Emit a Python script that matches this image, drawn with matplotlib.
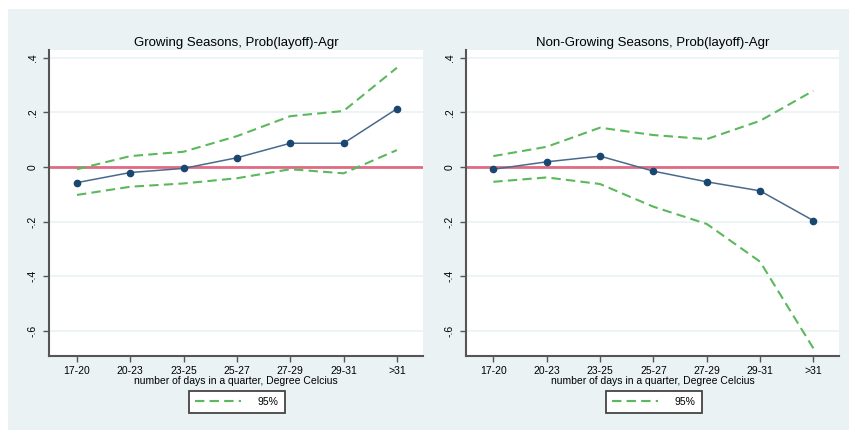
import matplotlib.pyplot as plt
from matplotlib.patches import Rectangle

# temperature bins on the x axis
bins = ['17-20', '20-23', '23-25', '25-27', '27-29', '29-31', '>31']
xpos = [1, 2, 3, 4, 5, 6, 7]

# growing seasons: estimate and 95% band
grow_est = [-0.057, -0.020, -0.005, 0.034, 0.087, 0.087, 0.213]
grow_hi = [-0.008, 0.040, 0.056, 0.113, 0.186, 0.205, 0.363]
grow_lo = [-0.102, -0.072, -0.060, -0.041, -0.008, -0.023, 0.062]

# non-growing seasons: estimate and 95% band
non_est = [-0.008, 0.019, 0.040, -0.015, -0.054, -0.087, -0.196]
non_hi = [0.040, 0.074, 0.144, 0.117, 0.102, 0.169, 0.279]
non_lo = [-0.054, -0.038, -0.062, -0.145, -0.208, -0.346, -0.663]

yticks = [-0.6, -0.4, -0.2, 0, 0.2, 0.4]
ytick_labels = ['-.6', '-.4', '-.2', '0', '.2', '.4']

titles = ['Growing Seasons, Prob(layoff)-Agr', 'Non-Growing Seasons, Prob(layoff)-Agr']

bg = '#eaf2f3'
navy = '#1a476f'
green = '#5cb85c'
red = '#e06c84'

plt.rcParams['font.family'] = ['Liberation Sans', 'DejaVu Sans']

W, H = 849, 430
fig = plt.figure(figsize=(W / 100, H / 100), dpi=100, facecolor='white')
fig.patches.append(Rectangle((8 / W, 0), 1 - 8 / W, 1 - 9 / H, transform=fig.transFigure,
                             facecolor=bg, edgecolor='none', zorder=-10))

def px_axes(x0, x1, y0, y1):
    return fig.add_axes([x0 / W, 1 - y1 / H, (x1 - x0) / W, (y1 - y0) / H])

panels = [
    (px_axes(49, 423, 50, 356), grow_est, grow_hi, grow_lo, (0.475, 7.49), 237),
    (px_axes(466, 839, 50, 356), non_est, non_hi, non_lo, (0.488, 7.48), 654),
]

for i, (ax, est, hi, lo, xl, lx) in enumerate(panels):
    ax.set_facecolor('white')
    for y in yticks:
        ax.axhline(y, color=bg, lw=1.2, zorder=0)
    ax.axhline(0, color=red, lw=2, zorder=1)
    ci, = ax.plot(xpos, hi, color=green, lw=1.5, dashes=(4.5, 2.5), label='95%', zorder=2)
    ax.plot(xpos, lo, color=green, lw=1.5, dashes=(4.5, 2.5), zorder=2)
    ax.plot(xpos, est, color='#4a6a8c', lw=1.1, marker='o', ms=4.5,
            mfc=navy, mec=navy, zorder=3)

    ax.set_xlim(*xl)
    ax.set_ylim(-0.691, 0.428)
    ax.set_xticks(xpos)
    ax.set_xticklabels(bins, fontsize=7.5)
    ax.set_yticks(yticks)
    ax.set_yticklabels(ytick_labels, fontsize=7.5, rotation=90, va='center')
    ax.tick_params(axis='both', length=4, width=1, color='#555555', pad=3)
    ax.tick_params(axis='y', pad=4)

    for s in ['top', 'right']:
        ax.spines[s].set_visible(False)
    for s in ['left', 'bottom']:
        ax.spines[s].set_color('#555555')
        ax.spines[s].set_linewidth(1.5)

    ax.set_title(titles[i], fontsize=9.5, pad=3)
    ax.set_xlabel('number of days in a quarter, Degree Celcius', fontsize=7.5, labelpad=0)

    leg = ax.legend(handles=[ci], loc='center', bbox_to_anchor=(lx / W, 1 - 402 / H),
                    bbox_transform=fig.transFigure, fontsize=7.5, handlelength=4.4,
                    fancybox=False, framealpha=1, borderpad=0.6, handletextpad=1.6)
    leg.get_frame().set_edgecolor('#444444')
    leg.get_frame().set_linewidth(1.3)

fig.savefig('out.png', dpi=100, facecolor=fig.get_facecolor())
